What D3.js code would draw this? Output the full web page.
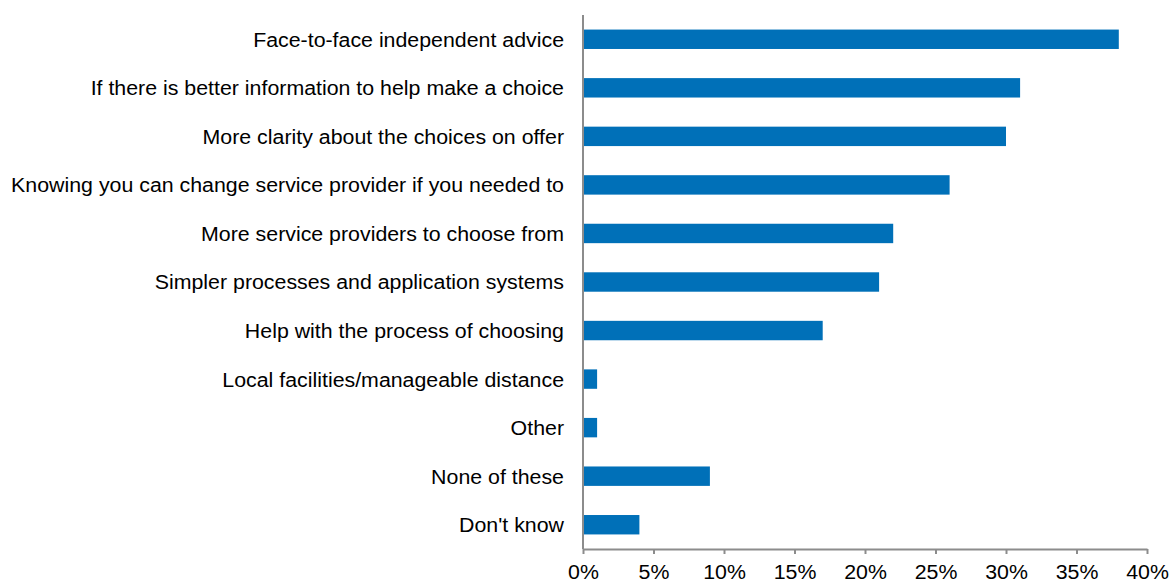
<!DOCTYPE html>
<html>
<head>
<meta charset="utf-8">
<script src="https://cdn.jsdelivr.net/npm/d3@7"></script>
<style>
  html, body { margin: 0; padding: 0; background: #fff; }
  svg text { font-family: "Liberation Sans", Arial, sans-serif; fill: #000; }
</style>
</head>
<body>
<svg id="chart" width="1170" height="582"></svg>
<script>
// Survey answers, listed top to bottom
const categories = [
  "Face-to-face independent advice",
  "If there is better information to help make a choice",
  "More clarity about the choices on offer",
  "Knowing you can change service provider if you needed to",
  "More service providers to choose from",
  "Simpler processes and application systems",
  "Help with the process of choosing",
  "Local facilities/manageable distance",
  "Other",
  "None of these",
  "Don't know"
];
// Share of respondents (%)
const values = [38, 31, 30, 26, 22, 21, 17, 1, 1, 9, 4];
// Axis ticks (%)
const tickValues = [0, 5, 10, 15, 20, 25, 30, 35, 40];

(function () {
  const svg = d3.select("#chart");
  const plotLeft = 583, plotRight = 1147, plotTop = 15, plotBottom = 549;
  const fontSize = "19.5px";
  const widen = 1.095; // slightly wide lettering

  const x = d3.scaleLinear().domain([0, 40]).range([plotLeft, plotRight]);
  const y = d3.scaleBand().domain(categories).range([plotTop, plotBottom])
    .paddingInner(0.6).paddingOuter(0.3);

  const axisColor = "#8c8c8c";

  // Bars
  svg.append("g").selectAll("rect")
    .data(values)
    .join("rect")
    .attr("x", x(0))
    .attr("y", (d, i) => y(categories[i]))
    .attr("width", d => x(d) - x(0))
    .attr("height", y.bandwidth())
    .attr("fill", "#0070b8");

  // Category labels
  svg.append("g").selectAll("text")
    .data(categories)
    .join("text")
    .attr("transform", d => `translate(${plotLeft - 19},${y(d) + y.bandwidth() / 2}) scale(${widen},1)`)
    .attr("dy", "0.38em")
    .attr("text-anchor", "end")
    .style("font-size", fontSize)
    .text(d => d);

  // Bottom axis
  const xAxis = d3.axisBottom(x)
    .tickValues(tickValues)
    .tickFormat(d => d + "%")
    .tickSize(5)
    .tickSizeOuter(0)
    .tickPadding(11);

  const gx = svg.append("g")
    .attr("transform", `translate(0,${plotBottom})`)
    .call(xAxis);
  gx.select(".domain").attr("stroke", axisColor).attr("stroke-width", 2);
  gx.selectAll(".tick line").attr("stroke", axisColor).attr("stroke-width", 2);
  gx.selectAll(".tick text")
    .attr("transform", `scale(${widen},1)`)
    .style("font-size", fontSize)
    .style("font-family", "'Liberation Sans', Arial, sans-serif")
    .attr("fill", "#000");

  // Vertical category axis line
  svg.append("line")
    .attr("x1", plotLeft).attr("x2", plotLeft)
    .attr("y1", plotTop).attr("y2", plotBottom)
    .attr("stroke", axisColor)
    .attr("stroke-width", 2);
})();
</script>
</body>
</html>
